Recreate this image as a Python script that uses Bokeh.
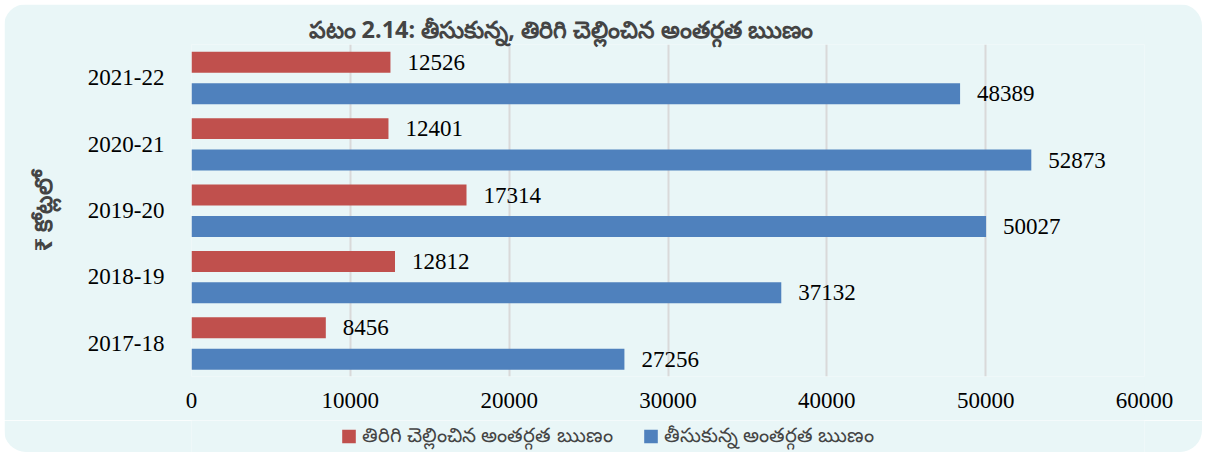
from bokeh.plotting import figure
from bokeh.layouts import column
from bokeh.models import ColumnDataSource, FactorRange, Legend, LegendItem
from bokeh.transform import dodge
from bokeh.core.properties import value
from bokeh.embed import file_html
from bokeh.resources import INLINE

years = ["2017-18", "2018-19", "2019-20", "2020-21", "2021-22"]
repaid = [8456, 12812, 17314, 12401, 12526]
raised = [27256, 37132, 50027, 52873, 48389]
x_ticks = [0, 10000, 20000, 30000, 40000, 50000, 60000]

title_text = "పటం 2.14: తీసుకున్న, తిరిగి చెల్లించిన అంతర్గత ఋణం"
repaid_name = "తిరిగి చెల్లించిన అంతర్గత ఋణం"
raised_name = "తీసుకున్న అంతర్గత ఋణం"
y_label = "₹ కోట్లలో"

RED = "#C0504D"
BLUE = "#4F81BD"
BG = "#E9F6F7"
SERIF = "Liberation Serif"
TEL = "Noto Sans"
RED_OFF = 0.233
BLUE_OFF = -0.24

src = ColumnDataSource(dict(year=years, repaid=repaid, raised=raised,
                            repaid_s=[str(v) for v in repaid],
                            raised_s=[str(v) for v in raised]))

p = figure(y_range=FactorRange(factors=years, range_padding=0), x_range=(0, 60000),
           width=1198, height=416,
           min_border_left=187, min_border_right=58, min_border_top=40, min_border_bottom=44,
           output_backend="svg", toolbar_location=None)

p.background_fill_color = BG
p.border_fill_color = BG
p.outline_line_color = None
p.styles = {"border-top-left-radius": "22px", "border-top-right-radius": "22px",
            "overflow": "hidden"}

p.hbar(y=dodge("year", RED_OFF, range=p.y_range), right="repaid", left=0, height=0.316,
       source=src, color=RED, line_color=None)
p.hbar(y=dodge("year", BLUE_OFF, range=p.y_range), right="raised", left=0, height=0.316,
       source=src, color=BLUE, line_color=None)

p.text(x="repaid", y=dodge("year", RED_OFF, range=p.y_range), text="repaid_s", source=src,
       x_offset=17, text_baseline="middle", text_font=value(SERIF), text_font_size="23px",
       text_color="#000000")
p.text(x="raised", y=dodge("year", BLUE_OFF, range=p.y_range), text="raised_s", source=src,
       x_offset=17, text_baseline="middle", text_font=value(SERIF), text_font_size="23px",
       text_color="#000000")

p.xaxis.ticker = x_ticks
p.xaxis.axis_line_color = None
p.xaxis.major_tick_line_color = None
p.xaxis.minor_tick_line_color = None
p.xaxis.major_tick_out = 0
p.xaxis.major_tick_in = 0
p.xaxis.minor_tick_out = 0
p.xaxis.major_label_text_font = SERIF
p.xaxis.major_label_text_font_size = "23px"
p.xaxis.major_label_text_color = "#000000"
p.xaxis.major_label_standoff = 16

p.yaxis.axis_line_color = None
p.yaxis.major_tick_line_color = None
p.yaxis.minor_tick_line_color = None
p.yaxis.major_label_text_font = SERIF
p.yaxis.major_label_text_font_size = "23px"
p.yaxis.major_label_text_color = "#000000"
p.yaxis.major_label_standoff = 21
p.yaxis.axis_label = y_label
p.yaxis.axis_label_text_font = TEL
p.yaxis.axis_label_text_font_style = "bold"
p.yaxis.axis_label_text_font_size = "24px"
p.yaxis.axis_label_standoff = 26

p.xgrid.grid_line_color = "#D9D9D9"
p.xgrid.grid_line_width = 2
p.ygrid.grid_line_color = None

p.title.text = title_text
p.title.text_font = TEL
p.title.text_font_size = "23.5px"
p.title.text_font_style = "bold"
p.title.align = "left"
p.title.offset = 117
p.title.standoff = 0

# legend strip below the chart: zero-width proxy bars only provide the key swatches
lg = figure(x_range=(0, 1), y_range=(0, 1), width=1198, height=32, min_border=0,
            output_backend="svg", toolbar_location=None,
            x_axis_location=None, y_axis_location=None)
lg.background_fill_color = BG
lg.border_fill_color = BG
lg.outline_line_color = None
lg.grid.grid_line_color = None
lg.styles = {"border-bottom-left-radius": "22px", "border-bottom-right-radius": "22px",
             "overflow": "hidden"}
proxy = ColumnDataSource(dict(y=[0.5], right=[0]))
k_red = lg.hbar(y="y", right="right", left=0, height=0.5, source=proxy, color=RED, line_color=None)
k_blue = lg.hbar(y="y", right="right", left=0, height=0.5, source=proxy, color=BLUE, line_color=None)

legend = Legend(items=[LegendItem(label=repaid_name, renderers=[k_red]),
                       LegendItem(label=raised_name, renderers=[k_blue])],
                orientation="horizontal", location="center_left",
                label_text_font=TEL, label_text_font_size="20px",
                label_height=18,
                glyph_width=17, glyph_height=17, spacing=29, padding=0, margin=149,
                label_standoff=5,
                background_fill_alpha=0, border_line_color=None)
lg.add_layout(legend, "center")

layout = column(p, lg, spacing=0, styles={"margin-left": "4px", "margin-top": "4px"})

open("out.html", "w").write(file_html(layout, INLINE))
